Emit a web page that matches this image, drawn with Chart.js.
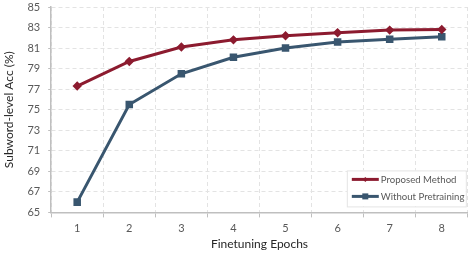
<!DOCTYPE html>
<html>
<head>
<meta charset="utf-8">
<script src="https://cdn.jsdelivr.net/npm/chart.js@4/dist/chart.umd.min.js"></script>
<style>
  html, body { margin: 0; padding: 0; background: #fff; }
  #wrap { width: 474px; height: 255px; }
</style>
</head>
<body>
<div id="wrap"><canvas id="epochChart" width="474" height="255"></canvas></div>
<script>
const epochs = ["1", "2", "3", "4", "5", "6", "7", "8"];
const proposed = [77.3, 79.7, 81.1, 81.8, 82.2, 82.5, 82.75, 82.8];
const noPretrain = [66.0, 75.5, 78.5, 80.1, 81.0, 81.6, 81.85, 82.1];

const red = "#8c1b2f";
const blue = "#39566f";
const fontName = "Lato, 'Open Sans', sans-serif";

// legend box drawn inside the plot, bottom right
const innerLegend = {
  id: "innerLegend",
  afterDraw(chart) {
    const ctx = chart.ctx;
    const area = chart.chartArea;
    const w = 119, h = 36;
    const x = area.right - w - 2, y = area.bottom - h - 6;
    ctx.save();
    ctx.fillStyle = "#fff";
    ctx.fillRect(x, y, w, h);
    ctx.strokeStyle = "#e4e4e4";
    ctx.lineWidth = 1;
    ctx.strokeRect(x + 0.5, y + 0.5, w, h);
    ctx.font = "9.6px " + fontName;
    ctx.textBaseline = "middle";
    chart.data.datasets.forEach((ds, i) => {
      const ly = y + 9 + i * 17;
      ctx.strokeStyle = ds.borderColor;
      ctx.lineWidth = 3;
      ctx.beginPath();
      ctx.moveTo(x + 5, ly);
      ctx.lineTo(x + 32, ly);
      ctx.stroke();
      ctx.fillStyle = ds.borderColor;
      if (i === 0) {
        ctx.beginPath();
        ctx.moveTo(x + 18.5, ly - 2.5);
        ctx.lineTo(x + 21, ly);
        ctx.lineTo(x + 18.5, ly + 2.5);
        ctx.lineTo(x + 16, ly);
        ctx.fill();
      } else {
        ctx.fillRect(x + 15.5, ly - 3, 6, 6);
      }
      ctx.fillStyle = "#595959";
      ctx.fillText(ds.label, x + 34, ly + 1);
    });
    ctx.restore();
  }
};

const config = {
  type: "line",
  data: {
    labels: epochs,
    datasets: [
      {
        label: "Proposed Method",
        data: proposed,
        borderColor: red,
        backgroundColor: red,
        borderWidth: 3,
        pointStyle: "rectRot",
        pointRadius: 2.6,
        pointHoverRadius: 2.6
      },
      {
        label: "Without Pretraining",
        data: noPretrain,
        borderColor: blue,
        backgroundColor: blue,
        borderWidth: 3,
        pointStyle: "rect",
        pointRadius: 3.2,
        pointHoverRadius: 3.2
      }
    ]
  },
  options: {
    responsive: false,
    animation: false,
    layout: { padding: { top: 7, right: 4, bottom: 4, left: 2 } },
    plugins: {
      legend: { display: false },
      tooltip: { enabled: false }
    },
    scales: {
      x: {
        offset: true,
        grid: {
          offset: true,
          color: "#e3e3e3",
          tickColor: "#bfbfbf",
          tickLength: 5
        },
        border: { color: "#bfbfbf", width: 1.5, dash: [4, 3] },
        ticks: { color: "#595959", font: { family: fontName, size: 11 }, padding: 4 },
        title: {
          display: true,
          text: "Finetuning Epochs",
          color: "#262626",
          font: { family: fontName, size: 12 },
          padding: { top: -2, bottom: 0 }
        }
      },
      y: {
        min: 65,
        max: 85,
        afterFit(scale) {
          scale.paddingTop = 0;
        },
        grid: {
          color: "#e3e3e3",
          tickColor: "#bfbfbf",
          tickLength: 3
        },
        border: { color: "#bfbfbf", width: 1.5, dash: [4, 3] },
        ticks: {
          stepSize: 2,
          color: "#595959",
          font: { family: fontName, size: 11 },
          padding: 8
        },
        title: {
          display: true,
          text: "Subword-level Acc (%)",
          color: "#262626",
          font: { family: fontName, size: 12 },
          padding: { top: 0, bottom: 3 }
        }
      }
    }
  },
  plugins: [innerLegend]
};

const myChart = new Chart(document.getElementById("epochChart"), config);
</script>
</body>
</html>
